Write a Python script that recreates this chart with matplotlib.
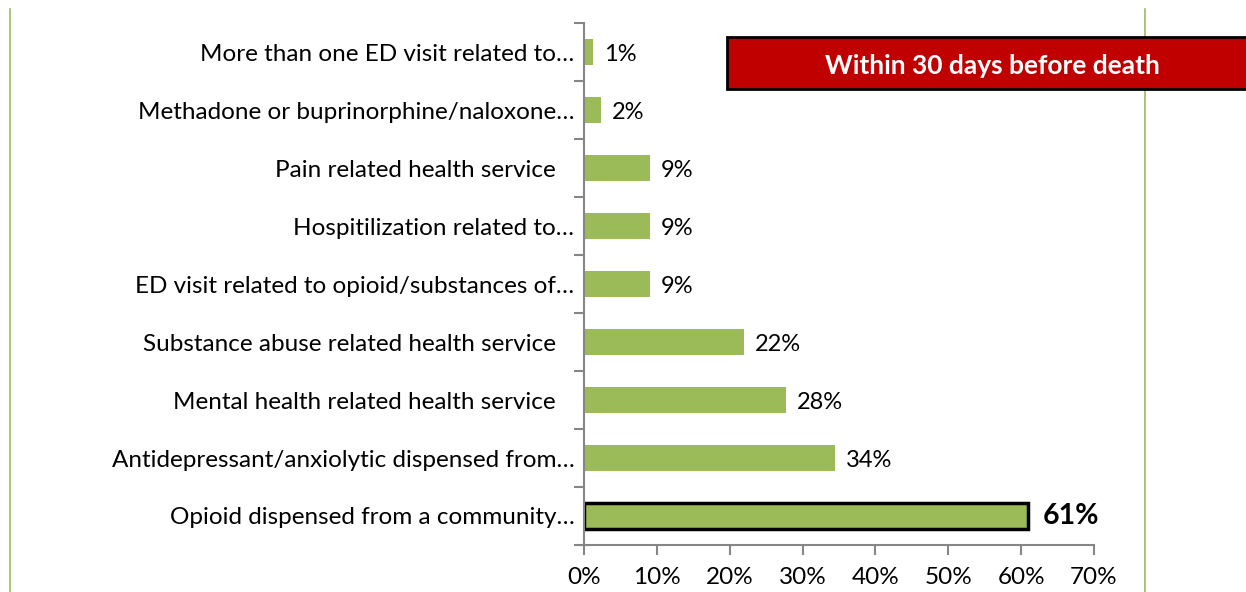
import matplotlib.pyplot as plt
from matplotlib.lines import Line2D
from matplotlib.patches import Rectangle

plt.rcParams['font.family'] = ['Lato', 'DejaVu Sans']

# data (bottom to top)
categories = [
    "Opioid dispensed from a community…",
    "Antidepressant/anxiolytic dispensed from…",
    "Mental health related health service   ",
    "Substance abuse related health service   ",
    "ED visit related to opioid/substances of…",
    "Hospitilization related to…",
    "Pain related health service   ",
    "Methadone or buprinorphine/naloxone…",
    "More than one ED visit related to…",
]
values = [61.0, 34.5, 27.7, 21.9, 9.1, 9.1, 9.1, 2.3, 1.2]
value_labels = ["61%", "34%", "28%", "22%", "9%", "9%", "9%", "2%", "1%"]
x_ticks = [0, 10, 20, 30, 40, 50, 60, 70]
box_text = "Within 30 days before death"

green = "#9BBB59"
gray = "#868686"

fig = plt.figure(figsize=(12.46, 5.92), dpi=100)
ax = fig.add_axes([0.4687, 0.0794, 0.4093, 0.8817])

ypos = list(range(len(categories)))
bars = ax.barh(ypos, values, height=0.45, color=green, edgecolor="none")
# highlight top bar
bars[0].set_edgecolor("black")
bars[0].set_linewidth(2.5)

for i, (v, lab) in enumerate(zip(values, value_labels)):
    if i == 0:
        ax.text(v + 2, i, lab, va="center", ha="left", fontsize=20.5, fontweight="bold")
    else:
        ax.text(v + 1.5, i - 0.05, lab, va="center", ha="left", fontsize=17)

ax.set_xlim(0, 70)
ax.set_ylim(-0.5, len(categories) - 0.5)
ax.set_xticks(x_ticks)
ax.set_xticklabels([f"{t}%" for t in x_ticks], fontsize=17.5)
ax.set_yticks(ypos)
ax.set_yticklabels(categories, fontsize=17.5)
ax.tick_params(axis="y", length=0, pad=7)
ax.set_yticks([y - 0.5 for y in range(len(categories) + 1)], minor=True)
ax.tick_params(axis="y", which="minor", length=7, color=gray, width=1.5)
ax.tick_params(axis="x", length=7, color=gray, width=1.5, pad=9)

for s in ["top", "right"]:
    ax.spines[s].set_visible(False)
ax.spines["left"].set_color(gray)
ax.spines["bottom"].set_color(gray)
ax.spines["left"].set_linewidth(1.5)
ax.spines["bottom"].set_linewidth(1.5)

# red title box
fig.add_artist(Rectangle((727 / 1246, 1 - 89 / 592), 530 / 1246, 52 / 592,
                         transform=fig.transFigure, facecolor="#C00000",
                         edgecolor="black", linewidth=2, zorder=5))
fig.text(992 / 1246, 1 - 66 / 592, box_text, color="white", fontsize=19,
         fontweight="bold", ha="center", va="center", zorder=6)

# green frame lines
fig.add_artist(Line2D([9.5 / 1246, 9.5 / 1246], [0, 1 - 9 / 592], color=green, lw=1.2))
fig.add_artist(Line2D([1145 / 1246, 1145 / 1246], [0, 1 - 9 / 592], color=green, lw=1.2, zorder=4))

fig.savefig("out.png", dpi=100)
